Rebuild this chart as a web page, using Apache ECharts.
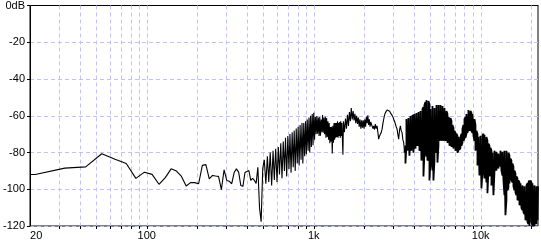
<!DOCTYPE html>
<html><head><meta charset="utf-8">
<script src="https://cdn.jsdelivr.net/npm/echarts@6/dist/echarts.min.js"></script>
<style>html,body{margin:0;padding:0;background:#fff}#c{width:541px;height:241px}</style>
</head><body><div id="c"></div>
<script>
// Low-frequency part (Hz, dB)
const lowFreq = [20,21.5,32.3,43.1,53.8,64.6,75.4,86.1,96.9,107.7,118.4,129.2,140,150.7,161.5,172.3,183,193.8,204.6,215.3,226.1,236.9,247.6,258.4,269.2,280,290.7,301.5,312.3,323,333.8,344.5,355.3,366.1,376.8,387.6,398.4,409.1,419.9,430.7,441.4,452.2,463,473.7,484.5,495.3];
const lowDb = [-92,-92,-88.5,-87.8,-80.7,-83.7,-86,-94.1,-90.7,-91.9,-97.3,-93.7,-88.9,-90.1,-93,-98.2,-96.4,-96.4,-97,-87,-86.6,-94.3,-92.5,-92.8,-93,-100.2,-89.4,-95.2,-95.7,-97,-90.9,-88.9,-90.7,-98,-98.4,-90.9,-90.1,-89.8,-95.2,-94.1,-95.2,-96.8,-88,-110,-117.7,-88.7];

// Mid part (Hz, dB)
const midFreq = [506,517,528,538,549,560,571,581,592,603,614,624,635,646,657,668,678,689,700,711,721,732,743,754,764,775,786,797,807,818,829,840,851,861,872,883,894,904,915,926,937,947,958,969,980,991,
1001,1012,1023,1034,1044,1055,1066,1077,1087,1098,1109,1120,1130,1141,1152,1163,1174,1184,1195,1206,1217,1227,1238,1249,1260,1270,1281,1292,1303,1313,1324,1335,1346,1356,1367,1378,1389,1400,1410,1421,1432,1443,1453,1464,1475,1486,1496,
1507,1528,1550,1572,1593,1615,1636,1658,1679,1701,1723,1744,1766,1787,1809,1830,1852,1873,1895,1917,1938,1960,1981,2003,2024,2046,2067,2089,2110,2132,2153,2175,2196,
2240,2264,2288,2314,2340,2368,2397,2430,2450,2480,2508,2540,2568,2600,2626,2660,2688,2720,2751,2780,2813,2850,2879,2910,2948,2980,3013,3050,3085,3120,3158,3190,3228,3265,3305,3340,3383,3420,3459,3500];
const midDb = [-84,-97,-82,-96,-80,-98,-79,-95,-78,-96,-77,-92,-75,-94,-74,-90,-72,-93,-71,-89,-70,-91,-69,-88,-68,-90,-67,-86,-66,-87,-65,-84,-64,-86,-64,-82,-63,-81,-62,-79,-61,-80,-60,-77,-59,-76,
-58.4,-73,-60.5,-70,-60.1,-69.8,-61,-71,-60.7,-70.9,-62,-69,-59.6,-69.3,-61,-70,-60.5,-72,-61.2,-71.5,-63,-73,-64,-75,-66.1,-74,-66,-80.6,-65.5,-74.7,-64,-73,-63.9,-72,-64,-71.5,-63,-72,-64,-71,-63.4,-72,-63,-71,-64,-73,-81.2,
-63,-69,-61.5,-67,-59.5,-65.5,-58,-63,-55.8,-62,-57.5,-62.5,-59,-64,-60,-64.5,-61,-66,-62,-67,-62.5,-66.5,-62.5,-67,-62,-66,-60.5,-64,-59.8,-65,-62,-66,-63.4,
-64,-67,-65.5,-67.5,-64.5,-67,-65.5,-70,-72.7,-71,-70.9,-69,-67.3,-64,-61.9,-59.5,-58.3,-57.5,-56.9,-56.5,-56.2,-57.5,-57.4,-59,-59.2,-60.5,-61.9,-63,-63.7,-66,-67.3,-70,-72.7,-68,-65.5,-68,-69.2,-73,-74.5,-80];

// High part: per-frequency peak (top) and dip (bottom) levels, dB
const highFreq = [3544,3593,3643,3694,3745,3797,3850,3903,3957,4012,4068,4124,4182,4240,4299,4359,4419,4481,4543,4606,4670,4735,4800,4867,4935,5004,5073,5144,5215,5288,5362,5436,5512,5588,5666,5745,5825,5905,5987,6071,6155,6240,6327,6415,6504,6593,6685,6778,6872,6967,7062,7160,7260,7361,7463,7568,7673,7779,7887,7997,8108,8220,8334,8450,8567,8687,8807,8929,9053,9179,9307,9436,9567,9700,9834,9971,10109,10250,10392,10536,10682,10830,10981,11133,11288,11445,11604,11765,11928,12094,12262,12432,12604,12779,12957,13138,13320,13505,13692,13882,14075,14270,14468,14669,14873,15080,15289,15501,15716,15935,16156,16380,16607,16838,17072,17310,17550,17793,18040,18291,18545,18802,19063,19328,19596,19868,20144,20424,20707,20995,21286,21582,21881,22050];
const highTop = [-76.3,-61.8,-62.8,-61.2,-61.8,-60.1,-60.7,-59.6,-60.7,-59.1,-58.5,-58.5,-58,-58,-57.4,-57.4,-56.4,-56.4,-55.3,-54.2,-52.6,-51.5,-50.7,-52,-53.7,-56.4,-57.4,-54.7,-55.3,-55.8,-55.3,-54.2,-54.2,-54.2,-53.7,-54.2,-54.2,-54.7,-55.3,-55.8,-55.8,-57.4,-59.1,-60.7,-61.8,-61.2,-62.8,-65,-66.6,-68.2,-69.3,-69.8,-70.9,-71.5,-71.5,-72,-69.8,-67.1,-65,-61.8,-60.7,-59.1,-58.5,-56.9,-56.9,-57.4,-58.5,-59.1,-59.6,-61.8,-65,-68.2,-69.8,-71.5,-70.9,-70.9,-70.4,-70.9,-69.8,-70.4,-69.8,-71.5,-73.6,-75.2,-76.3,-77.4,-79,-80.1,-79.6,-79,-79,-79.6,-80.1,-80.6,-80.1,-79,-79,-79.6,-79,-79,-78.5,-79,-79,-80.1,-81.7,-83.3,-84.4,-86,-87.6,-89.8,-91.4,-93,-94.1,-95.2,-96.3,-96.8,-97.3,-97.9,-97.9,-98.4,-98.4,-97.9,-96.8,-96.3,-95.2,-95.2,-96.3,-96.8,-97.3,-97.9,-97.9,-98.4,-99,-98.4];
const highBottom = [-86,-76.3,-79,-73.6,-81.7,-70.9,-79,-72.5,-80.1,-69.3,-77.9,-71.5,-76.3,-73.6,-79,-77.4,-84.4,-79,-93,-80.1,-79,-82.2,-84.4,-83.3,-95.2,-85.5,-83.3,-89.8,-95.2,-84.4,-80.1,-79,-85.5,-76.3,-73.6,-70.9,-73.6,-71.5,-73.6,-72,-73.6,-72.5,-74.7,-73.6,-76.3,-74.7,-76.9,-75.8,-77.9,-77.4,-79,-77.9,-80.1,-79,-78.5,-77.4,-76.3,-74.7,-73.6,-72.5,-72,-69.8,-69.3,-67.1,-68.2,-67.1,-68.2,-69.3,-70.9,-73.6,-79,-76.3,-87.1,-80.1,-92.5,-84.4,-99.5,-90.9,-85.5,-94.1,-87.1,-96.3,-102.2,-89.8,-93,-90.9,-97.9,-92.5,-103.3,-90.9,-88.7,-89.8,-87.1,-88.7,-86,-87.6,-89.8,-92.5,-95.2,-103.3,-114.1,-106,-100.6,-99,-96.8,-96.3,-95.2,-96.3,-98.4,-100.6,-101.7,-103.3,-106,-104.9,-108.7,-106,-110.3,-111.4,-112.4,-113.5,-116.8,-115.7,-117.8,-118.9,-120,-120,-117.8,-120,-118.9,-120,-117.8,-118.9,-116.8,-117.8];

// Grid / tick frequencies and labels
const gridFreqs = [30,40,50,60,70,80,90,100,200,300,400,500,600,700,800,900,1000,2000,3000,4000,5000,6000,7000,8000,9000,10000,20000];
const xLabels = {20:'20',100:'100',1000:'1k',10000:'10k'};
const yMin = -120, yMax = 0, yStep = 20;

const lineData = [];
lowFreq.forEach((f, i) => lineData.push([f, lowDb[i]]));
midFreq.forEach((f, i) => lineData.push([f, midDb[i]]));
const denseData = [lineData[lineData.length - 1]];
highFreq.forEach((f, i) => {
  if (i % 2 === 0) { denseData.push([f, highTop[i]]); denseData.push([f, highBottom[i]]); }
  else { denseData.push([f, highBottom[i]]); denseData.push([f, highTop[i]]); }
});

const chart = echarts.init(document.getElementById('c'), null, {renderer: 'canvas'});
const FONT = 'Liberation Sans';
chart.setOption({
  animation: false,
  backgroundColor: '#fff',
  grid: {left: 29, right: 3, top: 3, bottom: 15, show: true, borderColor: '#000', borderWidth: 1},
  xAxis: {
    type: 'log', logBase: 10, min: 20, max: 22050,
    axisLine: {show: true, lineStyle: {color: '#000', width: 1}},
    axisTick: {show: false},
    splitLine: {show: false},
    minorTick: {show: false},
    axisLabel: {
      color: '#000', fontFamily: FONT, fontSize: 11, margin: 4,
      showMaxLabel: false, alignMinLabel: 'left',
      formatter: v => xLabels[Math.round(v)] || ''
    }
  },
  yAxis: {
    type: 'value', min: yMin, max: yMax, interval: yStep,
    axisLine: {show: true, lineStyle: {color: '#000', width: 1}},
    axisTick: {show: true, length: 3, lineStyle: {color: '#000'}},
    splitLine: {show: true, lineStyle: {color: '#c0c0ff', type: [4, 3], width: 1}},
    axisLabel: {
      color: '#000', fontFamily: FONT, fontSize: 11, margin: 5,
      formatter: v => v === 0 ? '0dB' : String(v)
    }
  },
  series: [
    {
      type: 'custom', silent: true, clip: false, z: 1,
      data: gridFreqs.map(f => [f, yMin]),
      renderItem: (params, api) => {
        const f = api.value(0);
        const t = api.coord([f, yMax]);
        const b = api.coord([f, yMin]);
        const x = Math.round(t[0]) + 0.5;
        return {type: 'group', children: [
          {type: 'line', shape: {x1: x, y1: t[1], x2: x, y2: b[1]}, style: {stroke: '#c0c0ff', lineWidth: 1, lineDash: [4, 3]}},
          {type: 'line', shape: {x1: x, y1: b[1], x2: x, y2: b[1] + 3}, style: {stroke: '#000', lineWidth: 1}}
        ]};
      }
    },
    {
      type: 'line', data: lineData, symbol: 'none', showSymbol: false, silent: true, z: 3,
      sampling: null, clip: true,
      lineStyle: {color: '#000', width: 1.1},
      emphasis: {disabled: true}
    },
    {
      type: 'line', data: denseData, symbol: 'none', showSymbol: false, silent: true, z: 3,
      sampling: null, clip: true,
      lineStyle: {color: '#000', width: 1.8},
      emphasis: {disabled: true}
    }
  ]
});
</script>
</body></html>
